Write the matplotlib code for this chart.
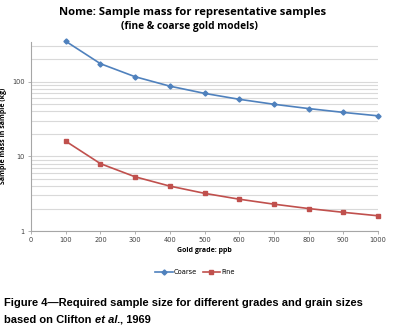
import numpy as np
import matplotlib
matplotlib.use("Agg")
import matplotlib.pyplot as plt
from matplotlib.ticker import LogLocator, FixedLocator, NullFormatter

# Values
grade_ppb = [100, 200, 300, 400, 500, 600, 700, 800, 900, 1000]
coarse_kg = [350, 175, 117, 87.5, 70, 58.3, 50, 43.8, 38.9, 35]
fine_kg = [16, 8, 5.33, 4, 3.2, 2.67, 2.29, 2.0, 1.78, 1.6]
x_ticks = [0, 100, 200, 300, 400, 500, 600, 700, 800, 900, 1000]
y_ticks = [1, 10, 100]

blue = "#4F81BD"
red = "#C0504D"
grid_col = "#D9D9D9"
axis_col = "#A6A6A6"

W, H = 401, 336
fig = plt.figure(figsize=(W / 100, H / 100), dpi=100)
fig.patch.set_facecolor("white")

# axes box in pixel coords
left, right, top, bottom = 31, 378, 41.7, 231
ax = fig.add_axes([left / W, 1 - bottom / H, (right - left) / W, (bottom - top) / H])

ax.plot(grade_ppb, coarse_kg, color=blue, lw=1.2, marker="D", ms=2.6,
        label="Coarse", clip_on=False, zorder=3)
ax.plot(grade_ppb, fine_kg, color=red, lw=1.2, marker="s", ms=3.2,
        label="Fine", clip_on=False, zorder=3)

ax.set_yscale("log")
ax.set_ylim(1, 345)
ax.set_xlim(0, 1000)
ax.xaxis.set_major_locator(FixedLocator(x_ticks))
ax.yaxis.set_major_locator(FixedLocator(y_ticks))
ax.yaxis.set_major_formatter(plt.FuncFormatter(lambda v, p: f"{v:g}"))
ax.yaxis.set_minor_locator(LogLocator(base=10, subs=np.arange(2, 10)))
ax.yaxis.set_minor_formatter(NullFormatter())

ax.grid(True, which="both", axis="y", color=grid_col, lw=0.8)
ax.set_axisbelow(True)

for s in ["top", "right"]:
    ax.spines[s].set_visible(False)
for s in ["left", "bottom"]:
    ax.spines[s].set_color(axis_col)
    ax.spines[s].set_linewidth(0.8)

ax.tick_params(axis="both", which="major", labelsize=4.8, colors="#404040",
               length=2.5, width=0.6, color=axis_col, pad=2)
ax.tick_params(axis="y", which="minor", length=0)

ax.set_xlabel("Gold grade: ppb", fontsize=5, fontweight="bold",
              family="Open Sans", labelpad=3)
ax.set_ylabel("Sample mass in sample (kg)", fontsize=5, fontweight="bold",
              family="Open Sans")
ax.yaxis.set_label_coords((7 - left) / (right - left), 0.5)

leg = fig.legend(loc="center", bbox_to_anchor=(195 / W, 1 - 272 / H), ncol=2,
                 frameon=False, fontsize=4.8, handlelength=2.6,
                 columnspacing=0.8, handletextpad=0.2)

fig.text(193 / W, 1 - 12 / H, "Nome: Sample mass for representative samples",
         ha="center", va="center", fontsize=8.1, fontweight="bold",
         family="Open Sans")
fig.text(189 / W, 1 - 26 / H, "(fine & coarse gold models)",
         ha="center", va="center", fontsize=7.3, fontweight="bold",
         family="Open Sans")

cap_kw = dict(va="center", fontsize=8, fontweight="bold", family="Liberation Sans")
fig.text(4 / W, 1 - 303 / H,
         "Figure 4\u2014Required sample size for different grades and grain sizes",
         ha="left", **cap_kw)

# second caption line: regular bold + bold italic "et al." pieces
renderer = fig.canvas.get_renderer()
x_px = 4
for piece, style in [("based on Clifton ", "normal"), ("et al.", "italic"),
                     (", 1969", "normal")]:
    t = fig.text(x_px / W, 1 - 320 / H, piece, ha="left", style=style, **cap_kw)
    x_px += t.get_window_extent(renderer).width

fig.savefig("out.png", dpi=100)
